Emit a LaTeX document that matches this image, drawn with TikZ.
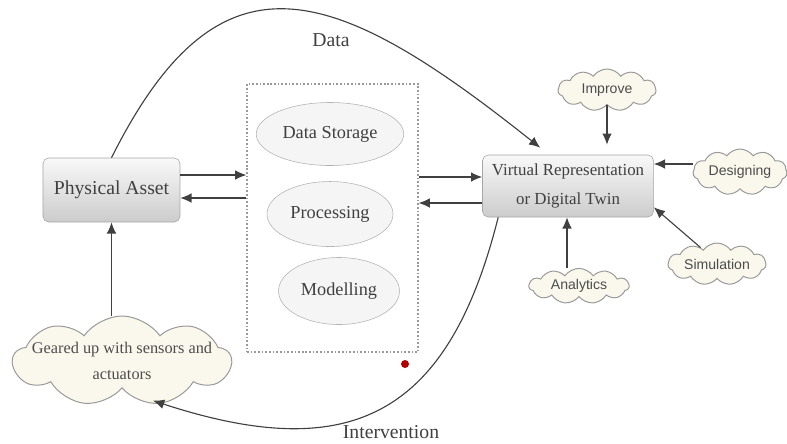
\documentclass[tikz,border=0pt]{standalone}
\usepackage{fontspec}
\setmainfont{Liberation Serif}
\setsansfont{Liberation Sans}
\usetikzlibrary{shapes,arrows,arrows.meta}
\definecolor{cloudfill}{RGB}{250,248,236}
\tikzstyle{asset} = [rectangle, draw=gray!70, top color=gray!5,
	bottom color=gray!40, text centered, rounded corners,
	text=black!75, align=center]
\tikzstyle{task} = [ellipse, draw=gray!60, fill=gray!8,
	text=black!75, font=\fontsize{13}{15}\selectfont]
\tikzstyle{bubble} = [cloud, cloud puffs=11, cloud puff arc=110, cloud ignores aspect,
	draw=gray!80, line width=0.7pt, fill=cloudfill, inner sep=0pt, text=black!70,
	font=\sffamily\fontsize{10}{12}\selectfont]
\tikzstyle{line} = [draw, -{Latex[length=2.8mm,width=2.4mm]}, line width=0.8pt, black!75]
\tikzstyle{edgetext} = [text=black!75, font=\fontsize{14}{16}\selectfont]

\begin{document}
\begin{tikzpicture}[x=0.025cm, y=-0.025cm, node distance=2cm]
	\useasboundingbox (0,0) rectangle (787,443);

	% Place nodes
	\node [asset, minimum width=3.425cm, minimum height=1.6cm,
		font=\fontsize{14}{16}\selectfont] (asset) at (111.5,190) {Physical Asset};
	\node [asset, minimum width=4.275cm, minimum height=1.55cm,
		font=\fontsize{12}{20}\selectfont] (twin) at (568,186) {Virtual Representation\\ or Digital Twin};
	\node [draw=gray!80, dash pattern=on 1.2pt off 1.4pt, line width=0.9pt, minimum width=4.275cm,
		minimum height=6.7cm] (platform) at (332.5,218) {};
	\node [task, minimum width=3.25cm, minimum height=1.575cm] (storage) at (330,134) {Data Storage};
	\node [task, below of=storage, minimum width=3.15cm, minimum height=1.625cm] (processing) {Processing};
	\node [task, minimum width=2.95cm, minimum height=1.675cm] (modelling) at (339,291) {Modelling};
	\node [bubble, minimum width=2.45cm, minimum height=1.05cm] (improve) at (607,90) {Improve};
	\node [bubble, minimum width=2.35cm, minimum height=1.15cm] (designing) at (740,172) {Designing};
	\node [bubble, minimum width=2.45cm, minimum height=1.05cm] (simulation) at (717,264) {Simulation};
	\node [bubble, minimum width=2.5cm, minimum height=0.88cm] (analytics) at (579,286) {Analytics};
	\node [bubble, cloud puffs=9, inner sep=-0.4cm, minimum width=5.45cm, minimum height=2.25cm, align=center,
		font=\fontsize{11.6}{18}\selectfont] (sensors) at (122,361) {Geared up with sensors and\\ actuators};
	\node [edgetext] (data) at (331,40) {Data};
	\node [edgetext] (intervention) at (391,432) {Intervention};
	\node [circle, fill=red!70!black, minimum size=0.2cm, inner sep=0pt] (dot) at (405,364) {};

	% Draw edges
	\path [line] ([yshift=0.375cm]asset.east) -- ([yshift=0.375cm]asset.east -| platform.west);
	\path [line] ([yshift=-0.2cm]asset.east -| platform.west) -- ([yshift=-0.2cm]asset.east);
	\path [line] ([yshift=0.225cm]twin.west -| platform.east) -- ([yshift=0.225cm]twin.west);
	\path [line] ([yshift=-0.425cm]twin.west) -- ([yshift=-0.425cm]twin.west -| platform.east);
	\path [line] (asset.south |- sensors.north) -- (asset.south);
	\path [line, shorten >=0.25cm] (improve.south) -- (improve.south |- twin.north);
	\path [line] ([yshift=0.2cm]designing.west) -- ([yshift=0.2cm]designing.west -| twin.east);
	\path [line] (simulation.135) -- ([yshift=0.25cm]twin.south east);
	\path [line] ([xshift=-0.3cm]analytics.north) -- ([xshift=-0.3cm]analytics.north |- twin.south);
	\path [line] (asset.north) .. controls (219,-57) and (331,-19) .. ([xshift=1.45cm,yshift=0.175cm]twin.north west);
	\path [line] ([xshift=0.4cm]twin.south west) .. controls (448,417) and (350,465) .. ([xshift=0.775cm,yshift=-0.3cm]sensors.south);
\end{tikzpicture}
\end{document}
